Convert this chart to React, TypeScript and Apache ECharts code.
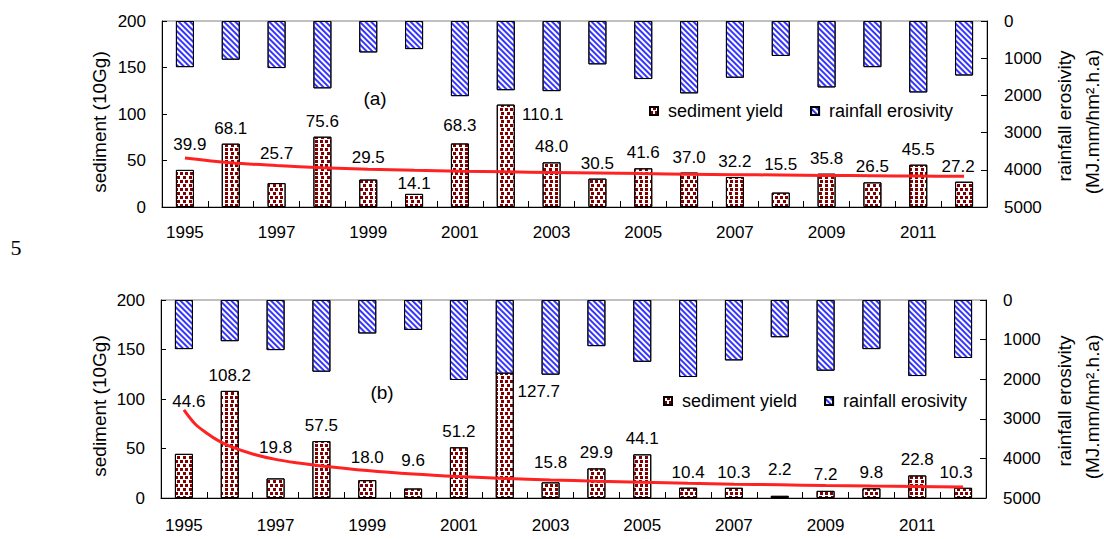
import React, { useEffect, useRef } from "react";
import * as echarts from "echarts";

// ---------- data ----------
const years = ["1995", "1996", "1997", "1998", "1999", "2000", "2001", "2002", "2003", "2004", "2005", "2006", "2007", "2008", "2009", "2010", "2011", "2012"];
const sedimentA = [39.9, 68.1, 25.7, 75.6, 29.5, 14.1, 68.3, 110.1, 48.0, 30.5, 41.6, 37.0, 32.2, 15.5, 35.8, 26.5, 45.5, 27.2];
const sedimentB = [44.6, 108.2, 19.8, 57.5, 18.0, 9.6, 51.2, 127.7, 15.8, 29.9, 44.1, 10.4, 10.3, 2.2, 7.2, 9.8, 22.8, 10.3];
const rainfall = [1240, 1040, 1265, 1810, 845, 755, 2020, 1860, 1885, 1165, 1560, 1945, 1525, 940, 1785, 1240, 1920, 1465];
// trend line readings (x = year index starting at 1 for 1995)
const trendXA = [1, 2, 3, 4, 5, 6, 7, 8, 9, 10, 11, 12, 13, 14, 15, 16, 17, 18];
const trendA = [52.8, 47.6, 44.6, 42.3, 40.7, 39.4, 38.5, 37.8, 37.2, 36.6, 35.9, 35.3, 34.8, 34.4, 34.0, 33.6, 33.3, 33.0];
const trendXB = [1, 1.25, 1.5, 1.75, 2, 2.5, 3, 3.5, 4, 5, 6, 7, 8, 9, 10, 11, 12, 13, 14, 15, 16, 17, 18];
const trendB = [89.0, 74.5, 65.5, 58.0, 52.5, 44.5, 39.0, 35.3, 32.4, 27.8, 24.3, 21.7, 19.7, 18.2, 17.0, 16.0, 14.9, 14.0, 13.3, 12.6, 12.0, 11.5, 11.0];
const sedimentTicks = { min: 0, max: 200, interval: 50 };
const rainfallTicks = { min: 0, max: 5000, interval: 1000 };

// ---------- label nudges (px) : [dx, dy] ----------
const labelNudgeA = [[5, -10], [0, 0], [0, -14], [0, 0], [0, -7], [0, 5], [0, -2], [37, 25], [0, 0], [0, 0], [0, 0], [0, 0], [0, 0], [0, -13], [0, 0], [0, 0], [0, 0], [-6, 0]];
const labelNudgeB = [[5, -37], [0, 0], [0, -15], [0, 0], [0, -7], [0, -12], [0, 0], [34, 35], [0, -4], [0, 0], [0, 0], [0, 0], [0, 0], [0, -11], [0, -1], [0, 0], [0, 0], [-7, 0]];

const FONT = "'Liberation Sans', Arial, Helvetica, sans-serif";
const FS = 17;
const FS_TEXT = 19;
const FS_LEGEND = 18;

const dotDecal = {
  symbol: "rect",
  symbolSize: 1,
  color: "#800000",
  dashArrayX: [[2.4, 2.0], [0, 2.2, 2.4, -0.2 + 0.2]],
  dashArrayY: [2.4, 0.9],
  rotation: 0,
};
const hatchDecal = {
  symbol: "rect",
  symbolSize: 1,
  color: "#3535ff",
  dashArrayX: [1, 0],
  dashArrayY: [1.7, 1.6],
  rotation: Math.PI / 4,
};

function buildOption() {
  const grids = [
    { left: 162, top: 21, width: 825, height: 186 },
    { left: 161, top: 300, width: 825, height: 198 },
  ];
  const panels = [
    { sed: sedimentA, nudge: labelNudgeA, tx: trendXA, ty: trendA, xMargin: 17 },
    { sed: sedimentB, nudge: labelNudgeB, tx: trendXB, ty: trendB, xMargin: 19 },
  ];
  const axisText = { color: "#000", fontSize: FS, fontFamily: FONT };
  const blackLine = { lineStyle: { color: "#000", width: 1 } };

  const grid: any[] = [];
  const xAxis: any[] = [];
  const yAxis: any[] = [];
  const series: any[] = [];

  panels.forEach((p, i) => {
    grid.push({ ...grids[i], show: true, borderColor: "#808080", borderWidth: 1, backgroundColor: "transparent" });
    xAxis.push({
      type: "category",
      gridIndex: i,
      data: years,
      boundaryGap: true,
      axisLine: { show: true, ...blackLine },
      axisTick: { show: true, inside: true, length: 6, interval: 0, ...blackLine },
      axisLabel: { ...axisText, interval: 1, margin: p.xMargin },
      splitLine: { show: false },
    });
    xAxis.push({ type: "value", gridIndex: i, min: 0.5, max: 18.5, show: false });
    yAxis.push({
      type: "value",
      gridIndex: i,
      position: "left",
      ...sedimentTicks,
      axisLine: { show: true, ...blackLine },
      axisTick: { show: true, inside: true, length: 5, ...blackLine },
      axisLabel: { ...axisText, margin: 16, formatter: (v: number) => String(v) },
      splitLine: { show: false },
    });
    yAxis.push({
      type: "value",
      gridIndex: i,
      position: "right",
      inverse: true,
      ...rainfallTicks,
      axisLine: { show: true, ...blackLine },
      axisTick: { show: true, inside: true, length: 6, ...blackLine },
      axisLabel: { ...axisText, margin: 17, formatter: (v: number) => String(v) },
      splitLine: { show: false },
    });
    series.push({
      name: "sediment yield",
      type: "bar",
      xAxisIndex: i * 2,
      yAxisIndex: i * 2,
      barWidth: 18,
      barGap: "-100%",
      itemStyle: { color: "#ffffff", borderColor: "#000", borderWidth: 1, decal: dotDecal },
      label: {
        show: true,
        position: "top",
        distance: 7,
        color: "#000",
        fontSize: FS,
        fontFamily: FONT,
        formatter: (prm: any) => Number(prm.value).toFixed(1),
      },
      data: p.sed.map((v, k) => ({ value: v, label: { offset: p.nudge[k] } })),
    });
    series.push({
      name: "rainfall erosivity",
      type: "bar",
      xAxisIndex: i * 2,
      yAxisIndex: i * 2 + 1,
      barWidth: 18,
      barGap: "-100%",
      itemStyle: { color: "#ffffff", borderColor: "#000", borderWidth: 1, decal: hatchDecal },
      data: rainfall,
    });
    series.push({
      name: "trend",
      type: "line",
      xAxisIndex: i * 2 + 1,
      yAxisIndex: i * 2,
      symbol: "none",
      showSymbol: false,
      smooth: 0.35,
      silent: true,
      z: 4,
      lineStyle: { color: "#ff2222", width: 3 },
      data: p.tx.map((x, k) => [x, p.ty[k]]),
    });
  });

  const legendBase = {
    orient: "horizontal",
    padding: 0,
    itemWidth: 8,
    itemHeight: 8,
    itemGap: 27,
    icon: "rect",
    selectedMode: false,
    textStyle: { color: "#000", fontSize: FS_LEGEND, fontFamily: FONT, padding: [0, 0, 0, 5] },
    data: ["sediment yield", "rainfall erosivity"],
  };

  const txt = (text: string, x: number, y: number, rot = 0, font = `${FS_TEXT}px ${FONT}`) => ({
    type: "text",
    x,
    y,
    rotation: rot,
    style: { text, font, fill: "#000", textAlign: "center", textVerticalAlign: "middle" },
  });

  return {
    animation: false,
    backgroundColor: "#ffffff",
    grid,
    xAxis,
    yAxis,
    series,
    legend: [
      { ...legendBase, left: 649, top: 102 },
      { ...legendBase, left: 663, top: 392 },
    ],
    graphic: [
      txt("(a)", 375, 98),
      txt("(b)", 382, 392),
      txt("5", 16, 247, 0, "22px 'Liberation Serif', 'Times New Roman', serif"),
      txt("sediment (10Gg)", 99, 122, Math.PI / 2),
      txt("sediment (10Gg)", 99, 406, Math.PI / 2),
      txt("rainfall erosivity", 1064, 116, Math.PI / 2),
      txt("(MJ.mm/hm\u00B2.h.a)", 1092, 122, Math.PI / 2),
      txt("rainfall erosivity", 1064, 401, Math.PI / 2),
      txt("(MJ.mm/hm\u00B2.h.a)", 1092, 407, Math.PI / 2),
    ],
  };
}

export default function App() {
  const ref = useRef<HTMLDivElement>(null);
  useEffect(() => {
    if (!ref.current) return;
    const chart = echarts.init(ref.current, undefined, { renderer: "svg" });
    chart.setOption(buildOption() as any);
    return () => chart.dispose();
  }, []);
  return (
    <div
      ref={ref}
      style={{ position: "fixed", left: 0, top: 0, width: 1104, height: 539, background: "#fff" }}
    />
  );
}
